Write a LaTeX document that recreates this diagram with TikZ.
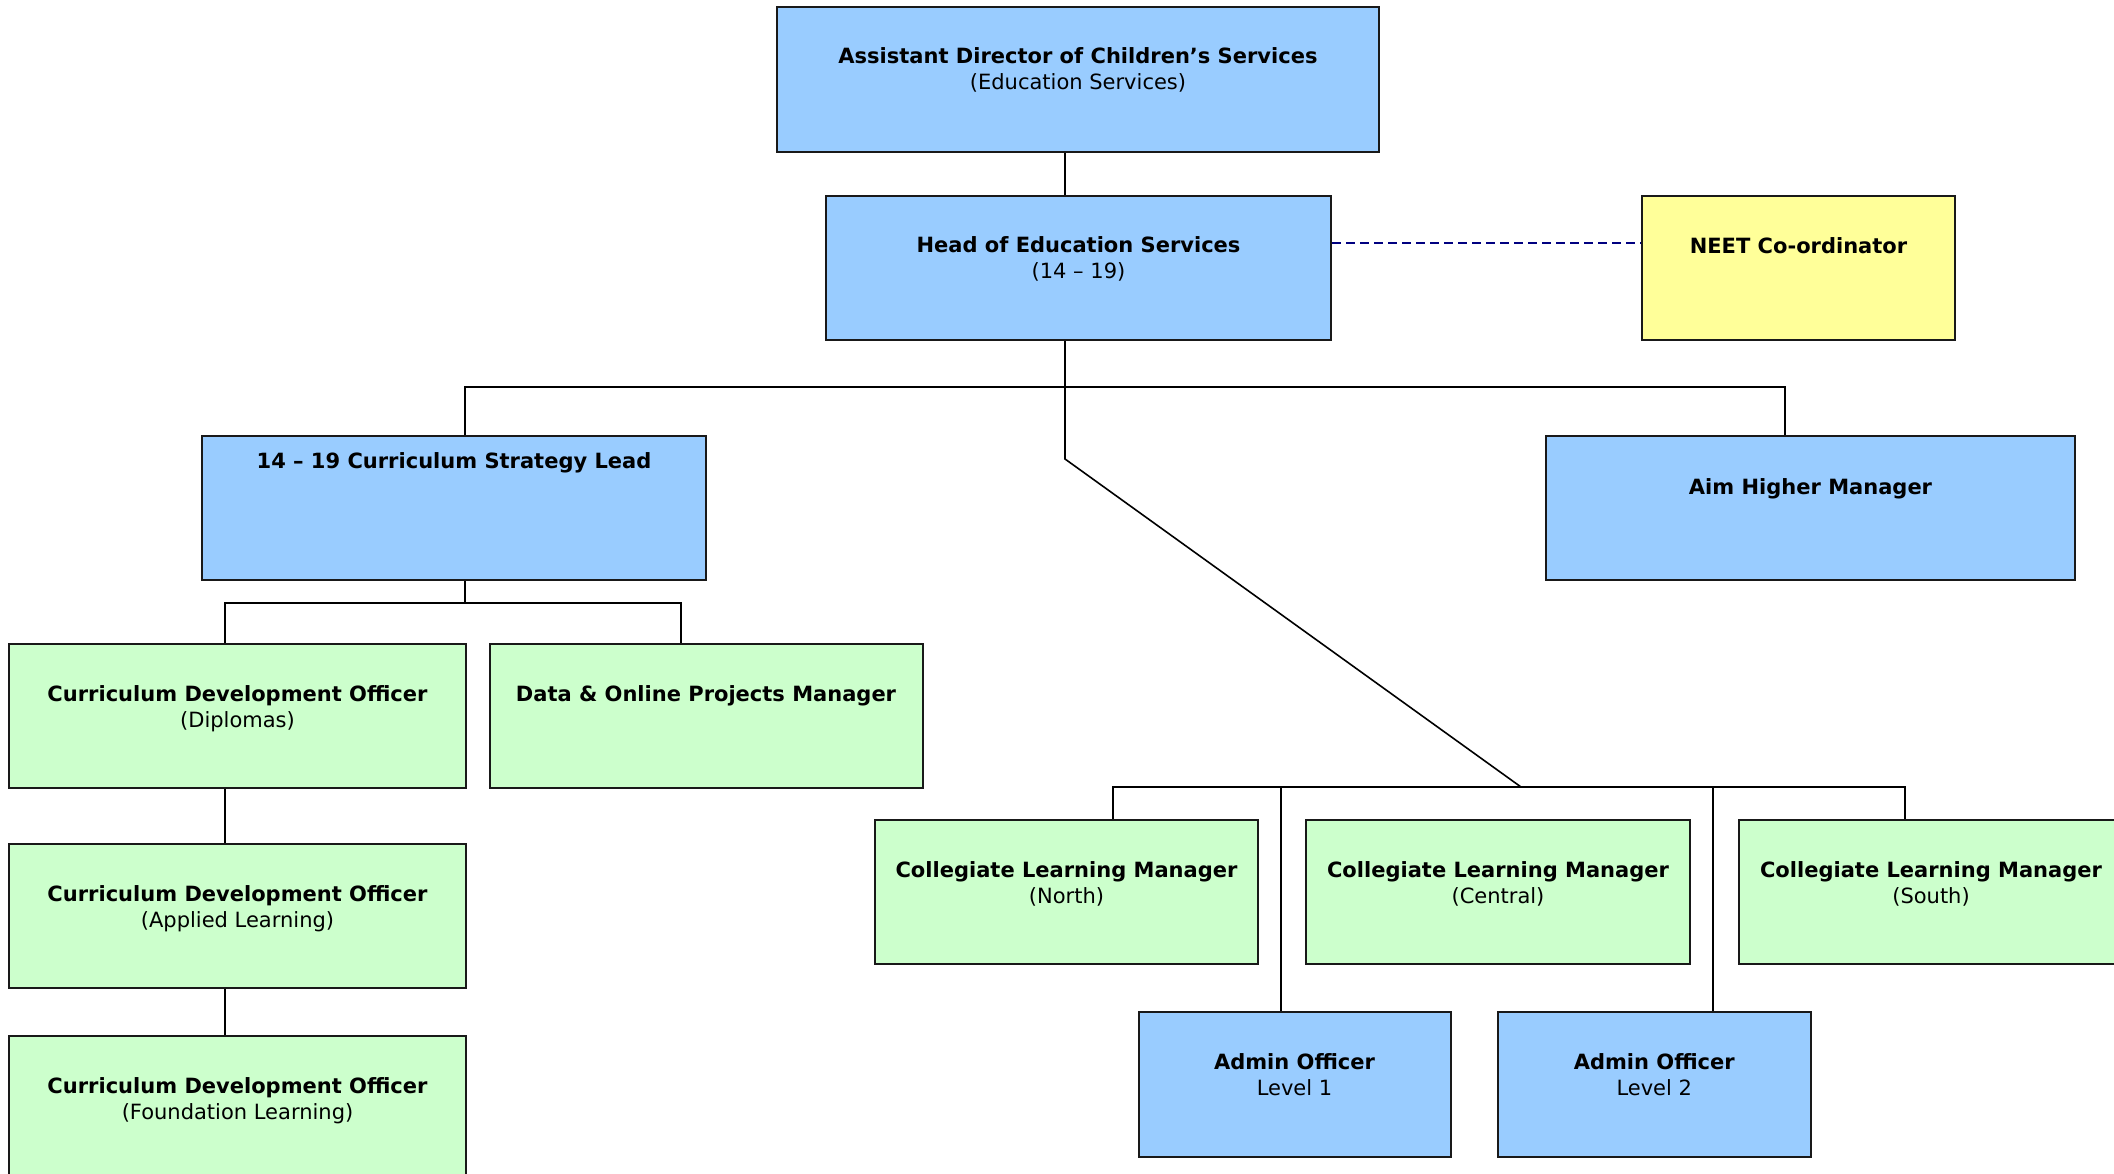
\documentclass[tikz,border=0pt]{standalone}
\usepackage{fontspec}
\setmainfont{DejaVu Sans}
\definecolor{bluebox}{HTML}{99CCFF}
\definecolor{greenbox}{HTML}{CCFFCC}
\definecolor{yellowbox}{HTML}{FFFF99}
\definecolor{dashnavy}{HTML}{000080}
\tikzset{
  orgbox/.style={draw=black!90, line width=2pt, inner sep=0pt, anchor=north west},
  ttl/.style={anchor=base, inner sep=0pt, font=\fontsize{21}{26}\selectfont\bfseries},
  sub/.style={anchor=base, inner sep=0pt, font=\fontsize{21}{26}\selectfont},
  conn/.style={draw=black, line width=1.6pt},
  dashconn/.style={draw=dashnavy, line width=2pt, dash pattern=on 9pt off 5pt}
}
\begin{document}
\begin{tikzpicture}[x=1pt,y=-1pt]
\useasboundingbox (0,0) rectangle (2114,1174);

% boxes
\node[orgbox, fill=bluebox, minimum width=602pt, minimum height=145pt] (adcs) at (776,6) {};
\node[orgbox, fill=bluebox, minimum width=505pt, minimum height=144pt] (hd) at (825,195) {};
\node[orgbox, fill=yellowbox, minimum width=313pt, minimum height=144pt] (neet) at (1641,195) {};
\node[orgbox, fill=bluebox, minimum width=504pt, minimum height=144pt] (sl) at (201,435) {};
\node[orgbox, fill=bluebox, minimum width=529pt, minimum height=144pt] (aim) at (1545,435) {};
\node[orgbox, fill=greenbox, minimum width=457pt, minimum height=144pt] (cdo1) at (8,643) {};
\node[orgbox, fill=greenbox, minimum width=433pt, minimum height=144pt] (data) at (488.5,643) {};
\node[orgbox, fill=greenbox, minimum width=457pt, minimum height=144pt] (cdo2) at (8,843) {};
\node[orgbox, fill=greenbox, minimum width=457pt, minimum height=144pt] (cdo3) at (8,1035) {};
\node[orgbox, fill=greenbox, minimum width=383pt, minimum height=144pt] (cn) at (874,819) {};
\node[orgbox, fill=greenbox, minimum width=384pt, minimum height=144pt] (cc) at (1305,819) {};
\node[orgbox, fill=greenbox, minimum width=384pt, minimum height=144pt] (cs) at (1738,819) {};
\node[orgbox, fill=bluebox, minimum width=312pt, minimum height=145pt] (a1) at (1137.5,1011) {};
\node[orgbox, fill=bluebox, minimum width=312.5pt, minimum height=145pt] (a2) at (1497,1011) {};

% junction coordinates
\coordinate (xa) at (1065,0);
\coordinate (jA) at (1065,387);
\coordinate (jB) at (1065,459);
\coordinate (jC) at (1521,787);
\coordinate (kL) at (465,387);
\coordinate (kR) at (1785,387);
\coordinate (kS) at (465,603);
\coordinate (kS1) at (225,603);
\coordinate (kS2) at (681,603);
\coordinate (m1) at (1113,787);
\coordinate (m2) at (1281,787);
\coordinate (m3) at (1713,787);
\coordinate (m4) at (1905,787);
\coordinate (dy) at (0,243);

% connectors
\draw[conn] (adcs.south -| xa) -- (hd.north -| xa);
\draw[conn] (hd.south -| xa) -- (jA) -- (jB) -- (jC);
\draw[conn] (sl.north -| kL) -- (kL) -- (kR) -- (aim.north -| kR);
\draw[conn] (sl.south -| kS) -- (kS);
\draw[conn] (cdo1.north -| kS1) -- (kS1) -- (kS2) -- (data.north -| kS2);
\draw[conn] (cdo1.south -| kS1) -- (cdo2.north -| kS1);
\draw[conn] (cdo2.south -| kS1) -- (cdo3.north -| kS1);
\draw[conn] (cn.north -| m1) -- (m1) -- (m4) -- (cs.north -| m4);
\draw[conn] (m2) -- (a1.north -| m2);
\draw[conn] (m3) -- (a2.north -| m3);
\draw[dashconn] (hd.east |- dy) -- (neet.west |- dy);

% texts
\node[ttl] (t1) at ([yshift=-58pt]adcs.north) {Assistant Director of Children’s Services};
\node[sub] (s1) at ([yshift=-84pt]adcs.north) {(Education Services)};
\node[ttl] (t2) at ([yshift=-58pt]hd.north) {Head of Education Services};
\node[sub] (s2) at ([yshift=-84pt]hd.north) {(14 – 19)};
\node[ttl] (t3) at ([yshift=-59pt]neet.north) {NEET Co-ordinator};
\node[ttl] (t4) at ([yshift=-33pt]sl.north) {14 – 19 Curriculum Strategy Lead};
\node[ttl] (t5) at ([yshift=-59pt]aim.north) {Aim Higher Manager};
\node[ttl] (t6) at ([yshift=-58pt]cdo1.north) {Curriculum Development Officer};
\node[sub] (s6) at ([yshift=-84pt]cdo1.north) {(Diplomas)};
\node[ttl] (t7) at ([yshift=-58pt]data.north) {Data \& Online Projects Manager};
\node[ttl] (t8) at ([yshift=-58pt]cdo2.north) {Curriculum Development Officer};
\node[sub] (s8) at ([yshift=-84pt]cdo2.north) {(Applied Learning)};
\node[ttl] (t9) at ([yshift=-58pt]cdo3.north) {Curriculum Development Officer};
\node[sub] (s9) at ([yshift=-84pt]cdo3.north) {(Foundation Learning)};
\node[ttl] (t10) at ([yshift=-58pt]cn.north) {Collegiate Learning Manager};
\node[sub] (s10) at ([yshift=-84pt]cn.north) {(North)};
\node[ttl] (t11) at ([yshift=-58pt]cc.north) {Collegiate Learning Manager};
\node[sub] (s11) at ([yshift=-84pt]cc.north) {(Central)};
\node[ttl] (t12) at ([yshift=-58pt]cs.north) {Collegiate Learning Manager};
\node[sub] (s12) at ([yshift=-84pt]cs.north) {(South)};
\node[ttl] (t13) at ([yshift=-58pt]a1.north) {Admin Officer};
\node[sub] (s13) at ([yshift=-84pt]a1.north) {Level 1};
\node[ttl] (t14) at ([yshift=-58pt]a2.north) {Admin Officer};
\node[sub] (s14) at ([yshift=-84pt]a2.north) {Level 2};
\end{tikzpicture}
\end{document}
